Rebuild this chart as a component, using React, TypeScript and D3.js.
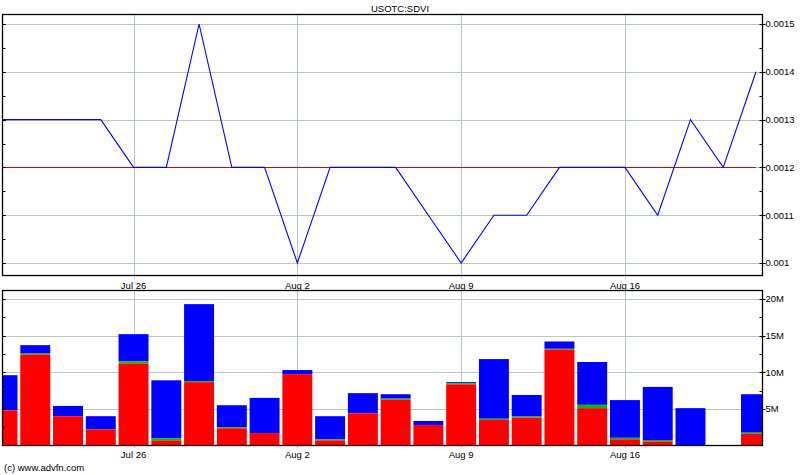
import * as d3 from "d3";

// trading days shown on the chart
const days = [
  "Jul 20", "Jul 21", "Jul 22", "Jul 23",
  "Jul 26", "Jul 27", "Jul 28", "Jul 29", "Jul 30",
  "Aug 2", "Aug 3", "Aug 4", "Aug 5", "Aug 6",
  "Aug 9", "Aug 10", "Aug 11", "Aug 12", "Aug 13",
  "Aug 16", "Aug 17", "Aug 18", "Aug 19", "Aug 20",
];
const weekTicks = ["Jul 26", "Aug 2", "Aug 9", "Aug 16"];

const closes = [
  0.0013, 0.0013, 0.0013, 0.0013,
  0.0012, 0.0012, 0.0015, 0.0012, 0.0012,
  0.001, 0.0012, 0.0012, 0.0012, 0.0011,
  0.001, 0.0011, 0.0011, 0.0012, 0.0012,
  0.0012, 0.0011, 0.0013, 0.0012, 0.0014,
];
const refPrice = 0.0012;
const priceTicks = [0.001, 0.0011, 0.0012, 0.0013, 0.0014, 0.0015];

// volume in millions: total, red (bottom) and green (thin middle) parts
const totalVol = [9.6, 13.7, 5.4, 4.0, 15.2, 8.9, 19.3, 5.5, 6.5, 10.3, 4.0, 7.15, 7.0, 3.35, 8.65, 11.8, 6.9, 14.2, 11.4, 6.2, 8.0, 5.1, 0, 7.0];
const redVol = [4.8, 12.4, 4.0, 2.2, 11.2, 0.7, 8.65, 2.35, 1.7, 9.75, 0.7, 4.4, 6.25, 2.8, 8.35, 3.5, 3.8, 13.1, 5.1, 0.85, 0.55, 0, 0, 1.6];
const greenVol = [0, 0.15, 0, 0, 0.3, 0.3, 0.15, 0.15, 0, 0, 0.15, 0, 0.15, 0, 0.15, 0.15, 0.15, 0.1, 0.45, 0.2, 0.2, 0, 0, 0.15];
const volTicks = [5, 10, 15, 20];

const W = 800;
const H = 475;
const left = 2.5;
const right = 762.5;
const top1 = 14.5;
const bottom1 = 275.5;
const top2 = 290.5;
const bottom2 = 445.5;
const grid = "#b6c6ca";
const font = "'Liberation Sans', Arial, sans-serif";

export default function App() {
  const x = d3.scalePoint<string>().domain(days).range([2.5, 756]);
  const step = x.step();
  const barW = step - 2.8;

  const yP = d3.scaleLinear().domain([0.001, 0.0015]).range([263, 24]);
  const yV = d3.scaleLinear().domain([0, 20]).range([bottom2, 299]);

  const line = d3
    .line<number>()
    .x((_, i) => x(days[i])!)
    .y((d) => yP(d));

  const priceMinor = d3.range(0.00095, 0.00155, 0.00005).filter((v) => yP(v) > top1 && yP(v) < bottom1);
  const volMinor = d3.range(2.5, 22.5, 2.5).filter((v) => yV(v) > top2);

  return (
    <svg
      width={W}
      height={H}
      style={{ position: "absolute", left: 0, top: 0, background: "#fff" }}
      fontFamily={font}
    >
      <defs>
        <clipPath id="volClip">
          <rect x={left} y={top2} width={right - left} height={bottom2 - top2} />
        </clipPath>
      </defs>
      <rect width={W} height={H} fill="#fff" />

      <text x={400} y={12} textAnchor="middle" fontSize={9.5}>USOTC:SDVI</text>

      {/* price panel grid */}
      {priceTicks.map((t) => (
        <line key={t} x1={left} x2={right} y1={Math.round(yP(t)) + 0.5} y2={Math.round(yP(t)) + 0.5} stroke={grid} />
      ))}
      {weekTicks.map((d) => (
        <line key={d} x1={Math.round(x(d)!) + 0.5} x2={Math.round(x(d)!) + 0.5} y1={top1} y2={bottom1 + 3} stroke={grid} />
      ))}

      {/* reference close */}
      <line x1={left} x2={x(days[days.length - 1])!} y1={Math.round(yP(refPrice)) + 0.5} y2={Math.round(yP(refPrice)) + 0.5} stroke="#e00000" />

      <path d={line(closes)!} fill="none" stroke="#0000ff" strokeWidth={1.1} />

      <rect x={left} y={top1} width={right - left} height={bottom1 - top1} fill="none" stroke="#000" strokeWidth={1.3} />

      {/* price axis */}
      {priceTicks.map((t) => (
        <g key={t}>
          <line x1={right - 2} x2={right + 3} y1={Math.round(yP(t)) + 0.5} y2={Math.round(yP(t)) + 0.5} stroke="#000" />
          <line x1={left} x2={left + 3} y1={Math.round(yP(t)) + 0.5} y2={Math.round(yP(t)) + 0.5} stroke="#000" />
          <text x={right + 3} y={yP(t) + 3.3} fontSize={9.5}>{String(t)}</text>
        </g>
      ))}
      {priceMinor.map((t) => (
        <g key={t}>
          <line x1={right - 3} x2={right} y1={Math.round(yP(t)) + 0.5} y2={Math.round(yP(t)) + 0.5} stroke="#000" />
          <line x1={left} x2={left + 3} y1={Math.round(yP(t)) + 0.5} y2={Math.round(yP(t)) + 0.5} stroke="#000" />
        </g>
      ))}
      {weekTicks.map((d) => (
        <text key={d} x={x(d)!} y={288.5} textAnchor="middle" fontSize={9.5}>{d}</text>
      ))}

      {/* volume panel grid */}
      {volTicks.map((t) => (
        <line key={t} x1={left} x2={right} y1={Math.round(yV(t)) + 0.5} y2={Math.round(yV(t)) + 0.5} stroke={grid} />
      ))}
      {weekTicks.map((d) => (
        <line key={d} x1={Math.round(x(d)!) + 0.5} x2={Math.round(x(d)!) + 0.5} y1={top2} y2={bottom2 + 3} stroke={grid} />
      ))}

      <g clipPath="url(#volClip)">
        {days.map((d, i) => {
          const cx = x(d)!;
          const r = redVol[i];
          const g = greenVol[i];
          const tot = totalVol[i];
          if (tot <= 0) return null;
          return (
            <g key={d}>
              <rect x={cx - barW / 2} width={barW} y={yV(tot)} height={yV(r + g) - yV(tot)} fill="#0000ff" />
              {g > 0 && (
                <rect x={cx - barW / 2} width={barW} y={yV(r + g)} height={yV(r) - yV(r + g)} fill="#00c000" />
              )}
              {r > 0 && (
                <rect x={cx - barW / 2} width={barW} y={yV(r)} height={yV(0) - yV(r)} fill="#ff0000" />
              )}
            </g>
          );
        })}
      </g>

      <rect x={left} y={top2} width={right - left} height={bottom2 - top2} fill="none" stroke="#000" strokeWidth={1.3} />

      {/* volume axis */}
      {volTicks.map((t) => (
        <g key={t}>
          <line x1={right - 2} x2={right + 3} y1={Math.round(yV(t)) + 0.5} y2={Math.round(yV(t)) + 0.5} stroke="#000" />
          <line x1={left} x2={left + 3} y1={Math.round(yV(t)) + 0.5} y2={Math.round(yV(t)) + 0.5} stroke="#000" />
          <text x={right + 3} y={yV(t) + 3.3} fontSize={9.5}>{`${t}M`}</text>
        </g>
      ))}
      {volMinor.map((t) => (
        <g key={t}>
          <line x1={right - 3} x2={right} y1={Math.round(yV(t)) + 0.5} y2={Math.round(yV(t)) + 0.5} stroke="#000" />
          <line x1={left} x2={left + 3} y1={Math.round(yV(t)) + 0.5} y2={Math.round(yV(t)) + 0.5} stroke="#000" />
        </g>
      ))}
      {weekTicks.map((d) => (
        <text key={d} x={x(d)!} y={457.5} textAnchor="middle" fontSize={9.5}>{d}</text>
      ))}

      <text x={4} y={471} fontSize={9.5}>(c) www.advfn.com</text>
    </svg>
  );
}
